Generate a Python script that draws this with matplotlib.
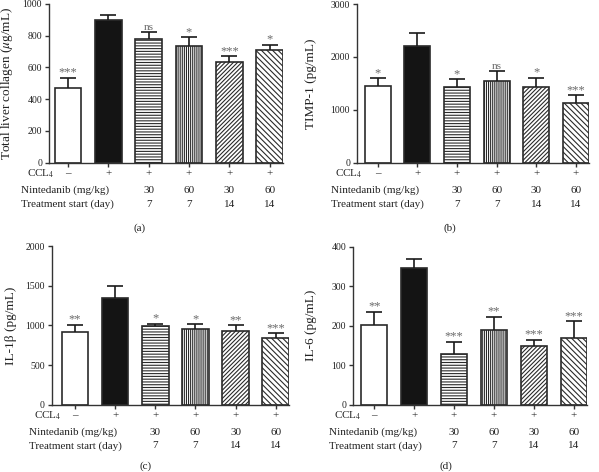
import numpy as np
import matplotlib
matplotlib.use('Agg')
import matplotlib.pyplot as plt

plt.rcParams['font.family'] = 'serif'
plt.rcParams['font.serif'] = ['Liberation Serif', 'DejaVu Serif']
plt.rcParams['mathtext.fontset'] = 'stix'
plt.rcParams['hatch.linewidth'] = 0.8

W, H = 599, 472

# data
ccl4 = ['\u2013', '+', '+', '+', '+', '+']
nintedanib = ['', '', '30', '60', '30', '60']
start_day = ['', '', '7', '7', '14', '14']

collagen_mean = [467, 898, 775, 733, 631, 708]
collagen_err = [68, 29, 48, 57, 38, 34]
collagen_sig = ['***', '', 'ns', '*', '***', '*']

timp_mean = [1444, 2206, 1425, 1544, 1425, 1123]
timp_err = [157, 251, 157, 184, 182, 151]
timp_sig = ['*', '', '*', 'ns', '*', '***']

il1b_mean = [916, 1340, 987, 953, 928, 844]
il1b_err = [92, 151, 33, 63, 72, 55]
il1b_sig = ['**', '', '*', '*', '**', '***']

il6_mean = [201, 347, 129, 188, 149, 170]
il6_err = [34, 23, 30, 35, 16, 41]
il6_sig = ['**', '', '***', '**', '***', '***']

fills = ['white', '#141414', 'white', 'white', 'white', 'white']
hatches = ['', '', '------', '||||||||', '////////', '\\' * 6]

fig = plt.figure(figsize=(W / 100, H / 100), dpi=100)


def panel(box, xlim, means, errs, sig, ymax, yticks, ylabel, ylab_px, row_px, tag, tag_xy):
    l, r, t, b = box
    ax = fig.add_axes([l / W, 1 - b / H, (r - l) / W, (b - t) / H])
    x = np.arange(len(means))
    bars = ax.bar(x, means, width=0.66, color=fills, edgecolor='#2a2a2a', linewidth=1.2, zorder=2)
    for bar, h in zip(bars, hatches):
        bar.set_hatch(h)
    eb = ax.errorbar(x, means, yerr=[np.zeros(len(errs)), errs], fmt='none', ecolor='#1a1a1a',
                     elinewidth=1.2, capsize=5.5, capthick=1.2, zorder=3)
    eb[1][0].set_visible(False)
    for xi, m, e, s in zip(x, means, errs, sig):
        if s:
            ax.annotate(s, xy=(xi, m + e), xytext=(0, 1.5), textcoords='offset points',
                        ha='center', va='baseline', fontsize=9 if s != 'ns' else 8, color='#6a6a6a')
    ax.set_xlim(*xlim)
    ax.set_ylim(0, ymax)
    ax.set_yticks(yticks)
    ax.set_xticks(x)
    ax.set_xticklabels([])
    ax.tick_params(length=3, width=1, color='#333', labelsize=7, labelcolor='#222', pad=2)
    for s in ['top', 'right']:
        ax.spines[s].set_visible(False)
    for s in ['left', 'bottom']:
        ax.spines[s].set_color('#333')
        ax.spines[s].set_linewidth(1)
    ax.set_ylabel(ylabel, fontsize=9.5, color='#222')
    ax.yaxis.set_label_coords(-ylab_px / (r - l), 0.5)

    rows = [('CCL$_4$', ccl4), ('Nintedanib (mg/kg)', nintedanib), ('Treatment start (day)', start_day)]
    dy = [11, 27.5, 41.3]
    for (name, vals), d, lx in zip(rows, dy, row_px):
        ax.annotate(name, xy=(0, 0), xycoords='axes fraction', xytext=(-lx * 0.72, -d * 0.72),
                    textcoords='offset points', ha='left', va='center', fontsize=8, color='#222')
        for xi, v in zip(x, vals):
            ax.annotate(v, xy=(xi, 0), xycoords=('data', 'axes fraction'), xytext=(0, -d * 0.72),
                        textcoords='offset points', ha='center', va='center', fontsize=8, color='#222')
    fig.text(tag_xy[0] / W, 1 - tag_xy[1] / H, tag, ha='center', va='center', fontsize=8, color='#222')
    return ax


panel((49, 283, 3.7, 162.7), (-0.47, 5.33), collagen_mean, collagen_err, collagen_sig,
      1000, [0, 200, 400, 600, 800, 1000], 'Total liver collagen ($\\mu$g/mL)', 34, [22, 28, 28],
      '(a)', (140, 228))
panel((357, 589, 4, 162.7), (-0.52, 5.33), timp_mean, timp_err, timp_sig,
      3000, [0, 1000, 2000, 3000], 'TIMP-1 (pg/mL)', 40, [22, 26, 26],
      '(b)', (450, 228))
panel((51.7, 289, 246, 404.7), (-0.58, 5.33), il1b_mean, il1b_err, il1b_sig,
      2000, [0, 500, 1000, 1500, 2000], 'IL-1\u03b2 (pg/mL)', 35, [17.5, 23, 23],
      '(c)', (146, 466))
panel((353, 587, 246.7, 404.7), (-0.53, 5.33), il6_mean, il6_err, il6_sig,
      400, [0, 100, 200, 300, 400], 'IL-6 (pg/mL)', 36, [18.5, 24, 24],
      '(d)', (446, 466))

fig.savefig('out.png', dpi=100)
